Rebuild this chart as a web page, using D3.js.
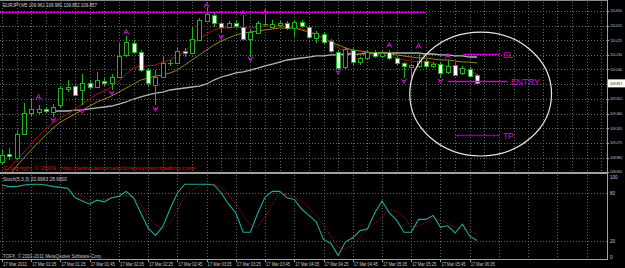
<!DOCTYPE html>
<html>
<head>
<meta charset="utf-8">
<script src="https://d3js.org/d3.v7.min.js"></script>
<style>
  html, body { margin: 0; padding: 0; background: #000; overflow: hidden; }
  svg { display: block; }
</style>
</head>
<body>
<div id="graphique"></div>
<script>
// --- Données (EURJPY M5, 17 mars 2011) ---
const ouv = [108.822,108.927,108.874,109.190,109.467,109.480,109.520,109.480,109.572,109.783,
  109.822,109.770,109.862,109.809,109.888,109.862,109.941,110.231,110.389,110.270,
  110.033,109.836,109.941,110.125,110.125,110.283,110.257,110.428,110.678,110.757,
  110.652,110.599,110.652,110.599,110.441,110.520,110.639,110.599,110.626,110.652,
  110.586,110.665,110.599,110.455,110.507,110.415,110.270,110.073,110.297,110.138,
  110.191,110.270,110.218,110.270,110.191,110.125,110.073,110.086,110.152,110.086,
  110.112,110.007,110.099,109.994,110.046,109.961];
const haut = [108.980,109.007,109.243,109.599,109.664,109.572,109.546,109.585,109.822,109.901,
  109.836,109.980,109.901,110.007,109.928,109.980,110.389,110.481,110.428,110.297,
  110.059,110.033,110.204,110.165,110.323,110.323,110.599,110.718,110.863,110.784,
  110.665,110.678,110.678,110.757,110.560,110.678,110.771,110.692,110.678,110.678,
  110.692,110.692,110.626,110.547,110.534,110.441,110.297,110.336,110.323,110.204,
  110.297,110.297,110.283,110.297,110.218,110.138,110.112,110.270,110.178,110.138,
  110.138,110.165,110.125,110.086,110.073,109.981];
const bas = [108.782,108.848,108.848,109.177,109.427,109.440,109.467,109.414,109.533,109.743,
  109.691,109.572,109.783,109.796,109.822,109.770,109.928,110.204,110.244,110.007,
  109.822,109.572,109.928,110.086,110.112,110.204,110.244,110.415,110.665,110.599,
  110.520,110.586,110.586,110.428,110.204,110.507,110.613,110.586,110.599,110.560,
  110.468,110.586,110.455,110.389,110.376,110.257,110.033,110.046,110.086,110.099,
  110.165,110.191,110.191,110.165,110.099,109.928,109.941,110.059,110.059,110.059,
  109.928,109.980,109.954,109.967,109.941,109.852];
const clot = [108.914,108.901,109.190,109.467,109.520,109.520,109.493,109.546,109.796,109.809,
  109.704,109.862,109.809,109.901,109.862,109.941,110.218,110.402,110.270,110.033,
  109.862,109.941,110.125,110.130,110.283,110.257,110.441,110.692,110.771,110.652,
  110.599,110.652,110.613,110.441,110.534,110.652,110.645,110.639,110.652,110.586,
  110.665,110.613,110.468,110.520,110.402,110.283,110.059,110.310,110.138,110.191,
  110.270,110.218,110.257,110.191,110.125,110.086,110.099,110.152,110.086,110.112,
  109.994,110.086,109.967,110.059,109.954,109.857];

// moyennes mobiles (rouge = rapide, olive = moyenne, gris = lente)
const mmRouge = [108.650,108.743,108.848,108.953,109.059,109.164,109.256,109.335,109.401,109.454,
  109.520,109.585,109.651,109.717,109.757,109.809,109.888,109.980,110.059,110.086,
  110.086,110.099,110.138,110.165,110.218,110.283,110.362,110.441,110.507,110.560,
  110.586,110.586,110.599,110.586,110.586,110.599,110.613,110.613,110.613,110.599,
  110.599,110.573,110.547,110.507,110.455,110.389,110.323,110.283,110.257,110.244,
  110.231,110.231,110.231,110.218,110.191,110.165,110.152,110.138,110.138,110.125,
  110.099,110.086,110.073,110.046,110.020,109.980];
const mmOlive = [108.558,108.650,108.769,108.874,108.980,109.085,109.177,109.269,109.348,109.401,
  109.454,109.506,109.559,109.612,109.651,109.691,109.743,109.796,109.849,109.901,
  109.928,109.954,109.967,109.994,110.033,110.099,110.165,110.231,110.297,110.362,
  110.415,110.455,110.494,110.520,110.534,110.547,110.560,110.573,110.586,110.586,
  110.586,110.560,110.534,110.494,110.455,110.402,110.362,110.323,110.297,110.283,
  110.270,110.257,110.257,110.244,110.231,110.218,110.204,110.191,110.191,110.178,
  110.165,110.165,110.152,110.138,110.138,110.125];
// la lente ne commence qu'à la 8e barre
const mmGris = [null,null,null,null,null,null,null,109.493,109.493,109.493,
  109.506,109.506,109.520,109.533,109.546,109.559,109.585,109.612,109.651,109.678,
  109.704,109.730,109.743,109.770,109.783,109.796,109.809,109.822,109.849,109.901,
  109.941,109.967,109.994,110.007,110.033,110.059,110.086,110.112,110.138,110.165,
  110.178,110.191,110.204,110.218,110.218,110.231,110.231,110.244,110.244,110.244,
  110.257,110.257,110.257,110.257,110.257,110.257,110.257,110.257,110.244,110.244,
  110.231,110.231,110.218,110.218,110.204,110.204];

// stochastique (5,3,3)
const stochPrincipale = [90,88,88,90,91,91,90,88,87,86, 74,70,66,71,69,74,76,82,74,55,
  36,27,38,60,80,91,91,91,91,90, 80,66,55,31,31,55,75,82,82,74,
  72,60,52,44,22,17,2,19,24,33, 35,55,70,55,46,31,31,47,47,52,
  37,39,30,41,26,20.7];
const stochSignal = [86,87,88,89,90,90,90,89,87,85, 80,76,70,70,72,74,75,77,74,66,
  50,40,35,43,58,76,84,88,91,91, 87,78,66,52,40,38,50,66,80,78,
  75,69,62,52,40,26,12,10,15,25, 34,42,50,60,57,50,37,39,43,49,
  46,42,37,35,33,28.68];

// fractales
const indicesHaut = [5,17,28,33,36,53,57,61];
const prixHaut = [109.678,110.534,110.889,110.784,110.797,110.362,110.349,110.218];
const indicesBas = [7,11,15,21,30,34,46,55,60];
const prixBas = [109.375,109.493,109.730,109.520,110.468,110.178,110.007,109.888,109.888];

// niveaux dessinés à la main
const nomsNiveaux = ["", "SL", "ENTRY", "TP"];
const prixNiveaux = [110.797, 110.244, 109.888, 109.177];
const debutNiveaux = [-0.3, 63.1, 61.0, 62.0];
const finNiveaux = [58.0, 68.0, 69.1, 68.0];

// axes
const ticksPrix = [110.810,110.615,110.425,110.230,110.040,109.850,109.655,109.460,109.265,109.075,108.880,108.690];
const ticksStoch = [100, 80, 20, 0];
const etiquettesTemps = ["17 Mar 2011","17 Mar 01:05","17 Mar 01:25","17 Mar 01:45","17 Mar 02:05",
  "17 Mar 02:25","17 Mar 02:45","17 Mar 03:05","17 Mar 03:25","17 Mar 03:45","17 Mar 04:05",
  "17 Mar 04:25","17 Mar 04:45","17 Mar 05:05","17 Mar 05:25","17 Mar 05:45","17 Mar 06:05"];
const dernierPrix = 109.857;

// --- Dessin ---
const largeur = 625, hauteur = 268, droite = 607;

const svg = d3.select("#graphique").append("svg")
  .attr("width", largeur)
  .attr("height", hauteur)
  .style("background", "#000");

const xBarre = d3.scaleLinear().domain([0, 65]).range([2, 477]);
const yPrix = d3.scaleLinear().domain([108.690, 110.810]).range([172, 11]);
const yStoch = d3.scaleLinear().domain([0, 100]).range([257, 177]);

svg.append("defs").append("clipPath").attr("id", "clipPrix")
  .append("rect").attr("x", 0).attr("y", 0).attr("width", droite).attr("height", 172);

const police = "'Liberation Sans', Arial, sans-serif";
const net = v => Math.round(v) + 0.5;

// grille pointillée
const grille = svg.append("g").attr("stroke", "#5a6a6a").attr("stroke-dasharray", "1,2");
grille.selectAll(".h").data(ticksPrix).enter().append("line")
  .attr("x1", 0).attr("x2", droite)
  .attr("y1", d => net(yPrix(d))).attr("y2", d => net(yPrix(d)));
const barresGrillePrix = d3.range(0, 84, 2).filter(k => xBarre(k) < droite);
grille.selectAll(".vp").data(barresGrillePrix).enter().append("line")
  .attr("x1", d => net(xBarre(d))).attr("x2", d => net(xBarre(d)))
  .attr("y1", 2).attr("y2", 172);
const barresGrilleStoch = d3.range(0, 84, 4).filter(k => xBarre(k) < droite);
grille.selectAll(".vs").data(barresGrilleStoch).enter().append("line")
  .attr("x1", d => net(xBarre(d))).attr("x2", d => net(xBarre(d)))
  .attr("y1", 175).attr("y2", 259);
grille.selectAll(".hs").data([80, 20]).enter().append("line")
  .attr("x1", 0).attr("x2", droite)
  .attr("y1", d => net(yStoch(d))).attr("y2", d => net(yStoch(d)));

// cadre
svg.append("line").attr("x1", 0).attr("x2", droite).attr("y1", 0.5).attr("y2", 0.5).attr("stroke", "#8a8a8a");
svg.append("rect").attr("x", 0).attr("y", 172).attr("width", droite).attr("height", 2).attr("fill", "#a0a0a0");
svg.append("line").attr("x1", 0).attr("x2", droite).attr("y1", 259.5).attr("y2", 259.5).attr("stroke", "#a0a0a0");
svg.append("line").attr("x1", droite + 0.5).attr("x2", droite + 0.5).attr("y1", 0).attr("y2", 260).attr("stroke", "#a0a0a0");

const zonePrix = svg.append("g").attr("clip-path", "url(#clipPrix)");

// moyennes mobiles
const ligneMM = d3.line().defined(d => d !== null).x((d, i) => xBarre(i)).y(d => yPrix(d));
zonePrix.append("path").datum(mmGris).attr("d", ligneMM)
  .attr("fill", "none").attr("stroke", "#b4b4b4").attr("stroke-width", 1.3);
zonePrix.append("path").datum(mmOlive).attr("d", ligneMM)
  .attr("fill", "none").attr("stroke", "#9c8420").attr("stroke-width", 1);
zonePrix.append("path").datum(mmRouge).attr("d", ligneMM)
  .attr("fill", "none").attr("stroke", "#a01414").attr("stroke-width", 1);

// bougies
const bougies = zonePrix.append("g").selectAll("g")
  .data(ouv.map((o, i) => ({ i: i, o: o, h: haut[i], l: bas[i], c: clot[i] })))
  .enter().append("g");

bougies.append("line")
  .attr("x1", d => Math.round(xBarre(d.i)) + 0.5)
  .attr("x2", d => Math.round(xBarre(d.i)) + 0.5)
  .attr("y1", d => yPrix(d.h))
  .attr("y2", d => yPrix(d.l))
  .attr("stroke", "#1fb01f");

bougies.append("rect")
  .attr("x", d => Math.round(xBarre(d.i)) - 1.5)
  .attr("width", 4)
  .attr("y", d => Math.round(yPrix(Math.max(d.o, d.c))) + 0.5)
  .attr("height", d => Math.max(0.01, Math.round(Math.abs(yPrix(d.o) - yPrix(d.c)))))
  .attr("fill", d => d.c >= d.o ? "#000" : "#ffffff")
  .attr("stroke", "#1fb01f");

// fractales
const flecheHaut = "M-2.5,2.5 L0,-2.5 L2.5,2.5 M-1.4,0.6 L1.4,0.6";
const flecheBas = "M-2.5,-2.5 L0,2.5 L2.5,-2.5 M-1.4,-0.6 L1.4,-0.6";
svg.selectAll(".fh").data(indicesHaut).enter().append("path")
  .attr("d", flecheHaut)
  .attr("transform", (d, k) => "translate(" + xBarre(d) + "," + yPrix(prixHaut[k]) + ")")
  .attr("fill", "none").attr("stroke", "#d010d0");
svg.selectAll(".fb").data(indicesBas).enter().append("path")
  .attr("d", flecheBas)
  .attr("transform", (d, k) => "translate(" + xBarre(d) + "," + yPrix(prixBas[k]) + ")")
  .attr("fill", "none").attr("stroke", "#d010d0");

// niveaux SL / ENTRY / TP
nomsNiveaux.forEach((nom, k) => {
  const y = net(yPrix(prixNiveaux[k]));
  svg.append("line")
    .attr("x1", Math.max(0, xBarre(debutNiveaux[k])))
    .attr("x2", xBarre(finNiveaux[k]))
    .attr("y1", y).attr("y2", y)
    .attr("stroke", nom === "TP" ? "#8c008c" : "#d000d0")
    .attr("stroke-width", nom === "" ? 1.6 : 1.3);
  if (nom !== "") {
    svg.append("text")
      .attr("x", xBarre(finNiveaux[k]) + 4)
      .attr("y", y)
      .attr("dy", "0.36em")
      .attr("font-family", police)
      .attr("font-size", 8.5)
      .attr("fill", "#e000e0")
      .text(nom);
  }
});

// ellipse autour de la zone d'entrée
svg.append("ellipse")
  .attr("cx", xBarre(65.5))
  .attr("cy", yPrix(109.717))
  .attr("rx", xBarre(75.2) - xBarre(65.5))
  .attr("ry", yPrix(109.717 - 0.816) - yPrix(109.717))
  .attr("fill", "none")
  .attr("stroke", "#e6e6e6")
  .attr("stroke-width", 1.2);

// textes du graphique principal
svg.append("text").attr("x", 3).attr("y", 5).attr("dy", "0.35em")
  .attr("font-family", police).attr("font-size", 5.5).attr("fill", "#d8d8d8")
  .attr("textLength", 94).attr("lengthAdjust", "spacingAndGlyphs")
  .text("EURJPY,M5  109.961 109.981 109.852 109.857");
svg.append("text").attr("x", 3).attr("y", 168).attr("dy", "0.35em")
  .attr("font-family", police).attr("font-size", 5.5).attr("fill", "#d81010")
  .attr("textLength", 192).attr("lengthAdjust", "spacingAndGlyphs")
  .text("Copyright \u00a9 2009, http://www.automaticforexsystemtrading.com");

// stochastique
const ligneStoch = d3.line().x((d, i) => xBarre(i)).y(d => yStoch(d));
svg.append("path").datum(stochSignal).attr("d", ligneStoch)
  .attr("fill", "none").attr("stroke", "#c41414").attr("stroke-dasharray", "1,1.5");
svg.append("path").datum(stochPrincipale).attr("d", ligneStoch)
  .attr("fill", "none").attr("stroke", "#22a89c").attr("stroke-width", 1.1);

svg.append("text").attr("x", 3).attr("y", 179).attr("dy", "0.35em")
  .attr("font-family", police).attr("font-size", 5.5).attr("fill", "#d0d0d0")
  .attr("textLength", 64).attr("lengthAdjust", "spacingAndGlyphs")
  .text("Stoch(5,3,3) 20.6963 28.6800");
svg.append("text").attr("x", 3).attr("y", 256).attr("dy", "0.35em")
  .attr("font-family", police).attr("font-size", 5.5).attr("fill", "#c8c8c8")
  .attr("textLength", 99).attr("lengthAdjust", "spacingAndGlyphs")
  .text("TOFX, \u00a9 2001-2011 MetaQuotes Software Corp.");

// axe des prix
const axePrix = svg.append("g").attr("font-family", police).attr("font-size", 4).attr("fill", "#c8c8c8");
axePrix.selectAll("text").data(ticksPrix).enter().append("text")
  .attr("x", 610).attr("y", d => yPrix(d)).attr("dy", "0.35em")
  .attr("textLength", 12).attr("lengthAdjust", "spacingAndGlyphs")
  .text(d => d.toFixed(3));
svg.selectAll(".tp").data(ticksPrix).enter().append("line")
  .attr("x1", droite).attr("x2", 609)
  .attr("y1", d => net(yPrix(d))).attr("y2", d => net(yPrix(d)))
  .attr("stroke", "#a0a0a0");

// étiquette du dernier prix
svg.append("rect").attr("x", 608).attr("y", yPrix(dernierPrix) - 4)
  .attr("width", 17).attr("height", 8).attr("fill", "#ffffff");
svg.append("text").attr("x", 610).attr("y", yPrix(dernierPrix)).attr("dy", "0.35em")
  .attr("font-family", police).attr("font-size", 4).attr("fill", "#000")
  .attr("textLength", 12).attr("lengthAdjust", "spacingAndGlyphs")
  .text(dernierPrix.toFixed(3));

// axe du stochastique
svg.append("g").attr("font-family", police).attr("font-size", 4.5).attr("fill", "#c8c8c8")
  .selectAll("text").data(ticksStoch).enter().append("text")
  .attr("x", 610).attr("y", d => yStoch(d)).attr("dy", "0.35em")
  .text(d => d);

// axe du temps
const axeTemps = svg.append("g").attr("font-family", police).attr("font-size", 5).attr("fill", "#c8c8c8");
axeTemps.selectAll("text").data(etiquettesTemps).enter().append("text")
  .attr("x", (d, k) => xBarre(k * 4) + 1)
  .attr("y", 264)
  .attr("dy", "0.35em")
  .attr("textLength", 24).attr("lengthAdjust", "spacingAndGlyphs")
  .text(d => d);
svg.selectAll(".tt").data(etiquettesTemps).enter().append("line")
  .attr("x1", (d, k) => net(xBarre(k * 4))).attr("x2", (d, k) => net(xBarre(k * 4)))
  .attr("y1", 260).attr("y2", 262)
  .attr("stroke", "#a0a0a0");
</script>
</body>
</html>
